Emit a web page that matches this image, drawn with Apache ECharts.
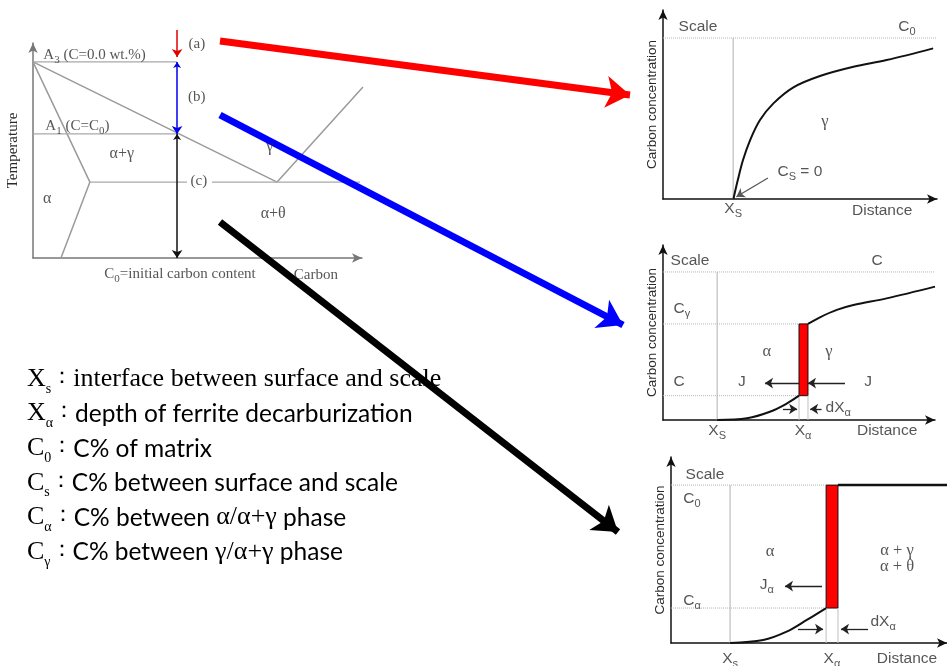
<!DOCTYPE html>
<html><head><meta charset="utf-8">
<script src="https://cdn.jsdelivr.net/npm/echarts@6/dist/echarts.min.js"></script>
<style>html,body{margin:0;padding:0;background:#fff}#c{width:947px;height:666px}</style>
</head><body><div id="c"></div><script>
// ================= DATA =================
// Phase diagram (grid 0): x = carbon (0-100 %), y = temperature (0-100 %)
const phaseBoundaries = [
  [[0,91.2],[74.2,35.3],[100.3,79.5]],
  [[0,91.2],[17.3,35.3],[8.5,0]]
];
const phaseIsotherms = [
  [[0,91.2],[43.8,91.2]],
  [[0,57.7],[43.8,57.7]],
  [[17.3,35.3],[46.8,35.3]],
  [[54.4,35.3],[99.4,35.3]]
];
const phaseArrows = [
  [[43.8,106],[43.8,93.5],'#e00000',false],
  [[43.8,91.2],[43.8,57.7],'#0000ee',true],
  [[43.8,57.7],[43.8,0],'#111111',true]
];
const phaseLabels = [
  [3,93.5,'A_3 (C=0.0 wt.%)','left'],
  [3.6,60.5,'A_1 (C=C_0)','left'],
  [27,47.9,'α+γ','center'],
  [72,51.2,'γ','center'],
  [4.3,27,'α','center'],
  [73,20,'α+θ','center'],
  [49.8,98.6,'(a)','center'],
  [49.8,74,'(b)','center'],
  [50.4,35.3,'(c)','center'],
  [44.7,-8.4,'C_0=initial carbon content','center'],
  [86,-8.8,'Carbon','center']
];
// Panel (a): distance vs carbon concentration
const curveA = [[25.7,0],[27.3,10],[29.2,20.6],[31.8,31.2],[35.4,41.8],[40.3,50.6],[47.6,59.1],[57.3,65.1],[69.5,70],[81.6,73.5],[98.6,79.7]];
const scaleLevelA = 85.2, xsA = 25.6;
const labelsA = [
  [5.5,90.5,'Scale','left'],
  [89,90.5,'C_0','center'],
  [59.1,40.2,'γ','center'],
  [41.6,13.8,'C_S = 0','left'],
  [25.6,-5.8,'X_S','center'],
  [80,-6.9,'Distance','center']
];
const pointerA = [[38.3,11.1],[26.8,1.2]];
// Panel (b)
const curveBLow = [[19.9,0],[30.9,1],[39.3,4.7],[45.6,9.5],[50,13.9]];
const curveBHigh = [[53.3,54.9],[57.7,58.7],[63.9,62.9],[70,65.7],[82.2,69.5],[100,76.2]];
const scaleLevelB = 84.6, xsB = 19.9, cGammaB = 54.9, cLowB = 13.9, frontB = [50,53.3];
const arrowsB = [[[50,21.1],[37.5,21.1]],[[66.9,21.1],[53.3,21.1]],[[44.1,6.3],[49.3,6.3]],[[58.3,6.3],[54.1,6.3]]];
const labelsB = [
  [2.6,90.3,'Scale','left'],
  [78.7,90.3,'C','center'],
  [3.7,62.9,'C_γ','left'],
  [38.2,38.3,'α','center'],
  [61,38.3,'γ','center'],
  [3.7,21.1,'C','left'],
  [29,21.1,'J','center'],
  [75.4,21.1,'J','center'],
  [59.6,6.3,'dX_α','left'],
  [19.9,-6.9,'X_S','center'],
  [51.5,-6.9,'X_α','center'],
  [82.4,-6.9,'Distance','center']
];
// Panel (c)
const curveC = [[21.4,0],[33.4,1.6],[41.9,6.1],[49.2,12.4],[56.2,18.8]];
const scaleLevelC = 84.9, xsC = 21.4, cAlphaC = 18.8, frontC = [56.2,60.5];
const arrowsC = [[[54.7,30.6],[41.3,30.6]],[[46,7.5],[55.1,7.5]],[[71.4,7.5],[61.6,7.5]]];
const labelsC = [
  [5.1,89.8,'Scale','left'],
  [4.3,76.9,'C_0','left'],
  [35.9,48.4,'α','center'],
  [81.9,48.9,'α + γ','center'],
  [81.9,40.3,'α + θ','center'],
  [34.7,30.6,'J_α','center'],
  [4.3,22,'C_α','left'],
  [72.1,10.8,'dX_α','left'],
  [21.4,-9.1,'X_s','center'],
  [58.3,-9.1,'X_α','center'],
  [85.5,-9.1,'Distance','center']
];
// Overlay connector arrows (page coordinates)
const connectors = [
  [[220,41],[630,95],'#ff0000'],
  [[220,115],[623,325],'#0000ff'],
  [[220,222],[618,532],'#000000']
];
// Legend list
const legendSymbols = ['X_s','X_α','C_0','C_s','C_α','C_γ'];
const legendTexts = ['interface between surface and scale','depth of ferrite decarburization','C% of matrix','C% between surface and scale','C% between α/α+γ phase','C% between γ/α+γ phase'];

// ================= BUILD =================
const SERIF = '"Liberation Serif","Times New Roman",serif';
const SANS = '"Liberation Sans",Arial,sans-serif';

function toRich(str){
  const parts = str.split(/_(.)/);
  let out = '';
  parts.forEach((p,i)=>{ if(!p) return; out += (i%2 ? '{b|'+p+'}' : '{a|'+p+'}'); });
  return out;
}
function richStyle(font,size,color){
  return {
    a:{fontFamily:font,fontSize:size,color:color,lineHeight:Math.round(size*1.2),verticalAlign:'top'},
    b:{fontFamily:font,fontSize:Math.round(size*0.7),color:color,lineHeight:Math.round(size*0.7),padding:[Math.round(size*0.6),0,0,0],verticalAlign:'bottom'}
  };
}
const series = [];
function poly(g, pts, color, width, type, smooth){
  series.push({type:'line', xAxisIndex:g, yAxisIndex:g, data:pts, symbol:'none', smooth:smooth||false, clip:false, silent:true,
    lineStyle:{color:color, width:width, type:type||'solid'}, animation:false, z:3});
}
function arrows(g, list, color, width, size, both){
  series.push({type:'lines', coordinateSystem:'cartesian2d', xAxisIndex:g, yAxisIndex:g, silent:true, animation:false, z:5,
    symbol: both?['arrow','arrow']:['none','arrow'], symbolSize:size, clip:false,
    lineStyle:{color:color, width:width, opacity:1, curveness:0},
    data: list.map(c=>({coords:[c[0],c[1]]}))});
}
function texts(g, list, font, size, color){
  series.push({type:'scatter', xAxisIndex:g, yAxisIndex:g, symbolSize:1, itemStyle:{color:'rgba(0,0,0,0)'}, silent:true, animation:false, clip:false, z:6,
    data: list.map(l=>{
      const greek = /^[αγθ +]+$/.test(l[2]);
      const f = greek ? SERIF : font;
      return {value:[l[0],l[1]], label:{show:true, position: l[3]==='left'?'right':'inside', distance:0,
        formatter: toRich(l[2]), rich: richStyle(f, greek? size+1 : size, color)}};
    })});
}
function frontArea(g, x0, x1, y0, y1){
  series.push({type:'line', xAxisIndex:g, yAxisIndex:g, data:[], silent:true, animation:false,
    markArea:{silent:true, itemStyle:{color:'#ff0000', borderColor:'#111', borderWidth:1},
      data:[[{coord:[x0,y0]},{coord:[x1,y1]}]]}});
}

// grid 0: phase diagram
phaseBoundaries.forEach(p=>poly(0,p,'#9a9a9a',1.5));
phaseIsotherms.forEach(p=>poly(0,p,'#a8a8a8',1.3));
phaseArrows.forEach(a=>arrows(0,[[a[0],a[1]]],a[2],1.5,[6,8],a[3]));
texts(0, phaseLabels, SERIF, 15, '#2a2a2a');

// grid 1: panel a
poly(1, [[0,scaleLevelA],[100,scaleLevelA]], '#b5b5b5', 1, 'dotted');
poly(1, [[xsA,0],[xsA,scaleLevelA]], '#b0b0b0', 1);
poly(1, curveA, '#111', 2, 'solid', 0.35);
arrows(1, [pointerA], '#555', 1.3, [6,8], false);
texts(1, labelsA, SANS, 15.5, '#2a2a2a');

// grid 2: panel b
poly(2, [[0,scaleLevelB],[100,scaleLevelB]], '#b5b5b5', 1, 'dotted');
poly(2, [[xsB,0],[xsB,scaleLevelB]], '#b0b0b0', 1);
poly(2, [[0,cGammaB],[frontB[0],cGammaB]], '#b5b5b5', 1, 'dotted');
poly(2, [[0,cLowB],[frontB[0],cLowB]], '#b5b5b5', 1, 'dotted');
poly(2, [[frontB[0],0],[frontB[0],cLowB]], '#c0c0c0', 1);
poly(2, [[frontB[1],0],[frontB[1],cLowB]], '#c0c0c0', 1);
poly(2, curveBLow, '#111', 2, 'solid', 0.35);
poly(2, curveBHigh, '#111', 2, 'solid', 0.35);
frontArea(2, frontB[0], frontB[1], cLowB, cGammaB);
arrows(2, arrowsB, '#222', 1.3, [6,8], false);
texts(2, labelsB, SANS, 15.5, '#2a2a2a');

// grid 3: panel c
poly(3, [[0,scaleLevelC],[frontC[0],scaleLevelC]], '#b5b5b5', 1, 'dotted');
poly(3, [[xsC,0],[xsC,scaleLevelC]], '#b0b0b0', 1);
poly(3, [[0,cAlphaC],[frontC[0],cAlphaC]], '#b5b5b5', 1, 'dotted');
poly(3, [[frontC[0],0],[frontC[0],cAlphaC]], '#c0c0c0', 1);
poly(3, [[frontC[1],0],[frontC[1],cAlphaC]], '#c0c0c0', 1);
poly(3, curveC, '#111', 2, 'solid', 0.35);
poly(3, [[frontC[1],scaleLevelC],[100,scaleLevelC]], '#111', 2.5);
frontArea(3, frontC[0], frontC[1], cAlphaC, scaleLevelC);
arrows(3, arrowsC, '#222', 1.3, [6,8], false);
texts(3, labelsC, SANS, 15.5, '#2a2a2a');

// grid 4: overlay connectors
connectors.forEach(c=>arrows(4, [[c[0],c[1]]], c[2], 7, [22,24], false));

function axisPair(g, color, yName, nameFont, nameSize, nameGap){
  const line = {show:true, symbol:['none','arrow'], symbolSize:[7,10], lineStyle:{color:color, width:1.5}};
  return [
    {gridIndex:g, type:'value', min:0, max:100, axisLine:line, axisTick:{show:false}, axisLabel:{show:false}, splitLine:{show:false}},
    {gridIndex:g, type:'value', min:0, max:100, axisLine:line, axisTick:{show:false}, axisLabel:{show:false}, splitLine:{show:false},
      name:yName, nameLocation:'middle', nameGap:nameGap, nameTextStyle:{fontFamily:nameFont, fontSize:nameSize, color:'#2a2a2a'}}
  ];
}
const ax0 = axisPair(0,'#777','Temperature',SERIF,15,12);
const ax1 = axisPair(1,'#111','Carbon concentration',SANS,13.5,4);
const ax2 = axisPair(2,'#111','Carbon concentration',SANS,13.5,4);
const ax3 = axisPair(3,'#111','Carbon concentration',SANS,13.5,4);
const hidden = (g,max,inv)=>({gridIndex:g, type:'value', min:0, max:max, inverse:!!inv, show:false});

// legend list graphic
const legendRich = {
  a:{fontFamily:SERIF, fontSize:26, color:'#222', lineHeight:30, verticalAlign:'top'},
  b:{fontFamily:SERIF, fontSize:14, color:'#222', lineHeight:14, padding:[14,0,0,0], verticalAlign:'bottom'},
  c:{fontFamily:SERIF, fontSize:22, color:'#222', lineHeight:30, verticalAlign:'top'},
  s:{fontFamily:'Lato,"Open Sans",sans-serif', fontSize:24.5, color:'#222', lineHeight:30, verticalAlign:'top', padding:[1,0,0,0]},
  g:{fontFamily:SERIF, fontSize:26, color:'#222', lineHeight:30, verticalAlign:'top'}
};
const legendY0 = 366, legendStep = 34.6;
const graphic = legendSymbols.map((sym,i)=>{
  const symRich = toRich(sym);
  let desc;
  if(i===0){ desc = '{g|'+legendTexts[i]+'}'; }
  else {
    desc = legendTexts[i].split(/([αγθ\/+]+)/).filter(x=>x).map(x=>/^[αγθ\/+]+$/.test(x)?'{g|'+x+'}':'{s|'+x+'}').join('');
  }
  return {type:'text', left:27, top: legendY0 + i*legendStep, silent:true, z:10,
    style:{text: symRich + '{c|：}' + desc, rich: legendRich}};
});

const chart = echarts.init(document.getElementById('c'), null, {renderer:'canvas'});
chart.setOption({
  animation:false,
  backgroundColor:'#fff',
  grid:[
    {left:33, top:43, width:329, height:215},
    {left:663, top:10, width:274, height:189},
    {left:663, top:245, width:272, height:175},
    {left:671, top:457, width:276, height:186},
    {left:0, top:0, width:947, height:666}
  ],
  xAxis:[ax0[0],ax1[0],ax2[0],ax3[0],hidden(4,947)],
  yAxis:[ax0[1],ax1[1],ax2[1],ax3[1],hidden(4,666,true)],
  graphic: graphic,
  series: series
});
</script></body></html>
